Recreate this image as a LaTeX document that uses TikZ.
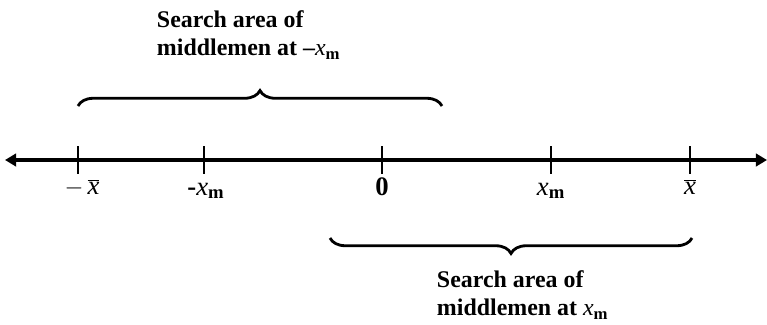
\documentclass[tikz,border=0pt]{standalone}
\usepackage{fontspec}
\setmainfont{Liberation Serif}
\usetikzlibrary{arrows.meta, positioning, decorations.pathreplacing}

\begin{document}
\begin{tikzpicture}[x=0.025cm, y=-0.025cm, >=Triangle,
  every node/.style={font=\fontsize{17}{20}\selectfont\bfseries},
  tick/.style={line width=1.8pt},
  brc/.style={decorate, decoration={brace, amplitude=11pt}, line width=2pt},
  lbl/.style={font=\fontsize{19}{20}\selectfont}]

\useasboundingbox (0,0) rectangle (767,324);

% Axis ends
\coordinate (left) at (5,160);
\coordinate (right) at (767,160);

% Tick points
\coordinate (t1) at (78,160);
\coordinate (t2) at (204,160);
\coordinate (t3) at (382,160);
\coordinate (t4) at (551,160);
\coordinate (t5) at (690,160);

% Axis
\draw[<->, line width=3pt, >={Triangle[length=8pt,width=9pt]}] (left) -- (right);

% Ticks
\foreach \t in {t1,t2,t3,t4,t5}
  \draw[tick] ([yshift=0.35cm]\t) -- ([yshift=-0.35cm]\t);

% Tick labels
\node[lbl] (l1) at (82,188) {$-\,\overline{\mbox{\textit{x}}}$};
\node[lbl] (l2) at (206,191) {\textbf{-}\textit{x}\textsubscript{\textbf{m}}};
\node[lbl] (l3) at (382,187) {\textbf{0}};
\node[lbl] (l4) at (551,191) {\textit{x}\textsubscript{\textbf{m}}};
\node[lbl] (l5) at (690,187) {$\overline{\mbox{\textit{x}}}$};

% Brace points
\coordinate (b1) at (78,106);
\coordinate (b2) at (442,106);
\coordinate (b3) at (692,238);
\coordinate (b4) at (330,238);

% Braces
\draw[brc] (b1) -- (b2);
\draw[brc] (b3) -- (b4);

% Search areas
\node[align=left, anchor=north west] (s1) at (152,6)
  {Search area of\\middlemen at --\textit{\mdseries x}\textsubscript{m}};
\node[align=left, anchor=north west] (s2) at (432,266)
  {Search area of\\middlemen at \textit{\mdseries x}\textsubscript{m}};

\end{tikzpicture}
\end{document}
